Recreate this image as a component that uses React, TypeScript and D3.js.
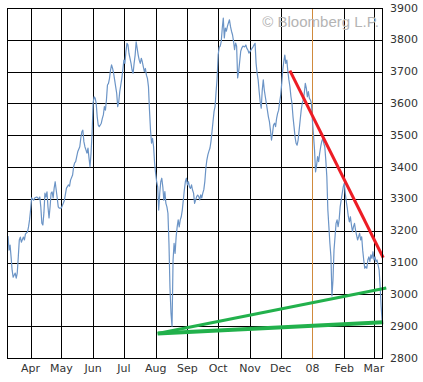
import React from "react";
import * as d3 from "d3";

// Daily closes, [day of month, value]
const mar07: [number, number][] = [[10,3183],[11,3139],[12,3155],[13,3117],[14,3076],[15,3054],[17,3067],[18,3051],[19,3067],[20,3117],[21,3171],[22,3180],[23,3164],[25,3180],[26,3171],[27,3190],[29,3196],[30,3212],[31,3234]];
const apr07: [number, number][] = [[1,3265],[2,3303],[4,3296],[5,3303],[7,3306],[9,3300],[10,3306],[11,3274],[12,3224],[13,3218],[14,3256],[15,3318],[16,3306],[17,3322],[18,3274],[19,3240],[20,3274],[21,3318],[22,3322],[23,3303],[24,3334],[25,3354],[26,3328],[27,3303],[28,3275],[29,3271]];
const may07: [number, number][] = [[1,3271],[3,3287],[4,3296],[6,3334],[8,3344],[9,3340],[10,3359],[12,3375],[13,3401],[14,3413],[15,3417],[16,3433],[17,3448],[19,3464],[20,3491],[21,3511],[22,3516],[23,3480],[24,3464],[25,3454],[26,3444],[27,3460],[28,3428],[29,3401],[30,3444],[31,3507]];
const jun07: [number, number][] = [[1,3601],[2,3621],[3,3617],[4,3601],[5,3558],[6,3532],[7,3527],[9,3538],[10,3553],[11,3564],[12,3590],[13,3579],[14,3611],[15,3658],[16,3663],[17,3679],[18,3705],[19,3721],[20,3710],[21,3695],[22,3674],[23,3653],[24,3632],[25,3590],[26,3605],[27,3637],[28,3658],[29,3679],[30,3705]];
const jul07: [number, number][] = [[1,3736],[2,3726],[3,3763],[4,3789],[5,3784],[6,3757],[7,3742],[8,3726],[9,3705],[10,3695],[11,3726],[12,3752],[13,3794],[14,3773],[15,3752],[16,3736],[17,3726],[18,3742],[19,3731],[20,3715],[21,3700],[22,3710],[23,3689],[24,3679],[25,3653],[26,3579],[27,3516],[28,3475],[29,3490],[30,3464],[31,3412]];
const aug07: [number, number][] = [[1,3380],[2,3354],[3,3338],[4,3265],[5,3318],[6,3354],[7,3365],[8,3338],[9,3296],[10,3323],[11,3286],[12,3275],[13,3255],[14,3160],[15,3020],[16,2940],[17,2900],[18,3108],[19,3160],[20,3129],[21,3181],[22,3212],[23,3234],[24,3212],[25,3234],[26,3244],[27,3265],[28,3296],[29,3328],[30,3354],[31,3365]];
const sep07: [number, number][] = [[1,3344],[2,3354],[3,3338],[4,3333],[5,3344],[6,3328],[7,3318],[8,3286],[9,3296],[10,3307],[11,3312],[12,3308],[13,3297],[14,3313],[15,3303],[16,3318],[17,3329],[18,3355],[19,3397],[20,3423],[21,3439],[22,3450],[23,3460],[24,3481],[25,3512],[26,3544],[27,3575],[28,3591],[29,3638],[30,3680]];
const oct07: [number, number][] = [[1,3753],[2,3776],[3,3780],[4,3795],[5,3837],[6,3868],[7,3806],[8,3837],[9,3827],[10,3842],[11,3853],[12,3863],[13,3842],[14,3827],[15,3816],[16,3795],[17,3769],[18,3790],[19,3780],[20,3680],[21,3701],[22,3732],[23,3764],[24,3774],[25,3780],[27,3778],[28,3784],[29,3773],[30,3768],[31,3758]];
const nov07: [number, number][] = [[1,3763],[2,3768],[3,3773],[4,3778],[5,3784],[6,3789],[7,3726],[8,3695],[9,3674],[10,3637],[11,3605],[12,3585],[13,3642],[14,3674],[15,3642],[16,3621],[17,3600],[18,3579],[19,3558],[20,3543],[21,3516],[22,3485],[23,3506],[24,3532],[25,3538],[26,3527],[27,3553],[28,3569],[29,3579],[30,3605]];
const dec07: [number, number][] = [[1,3626],[2,3663],[3,3705],[4,3731],[5,3752],[6,3726],[7,3736],[8,3700],[9,3674],[10,3653],[11,3621],[12,3600],[13,3558],[14,3527],[15,3495],[16,3475],[17,3469],[18,3485],[19,3516],[20,3548],[21,3579],[22,3600],[23,3611],[24,3632],[25,3663],[26,3648],[27,3621],[28,3637],[29,3616],[30,3611],[31,3600]];
const jan08: [number, number][] = [[1,3543],[2,3501],[3,3454],[4,3385],[5,3406],[6,3433],[7,3417],[8,3443],[9,3464],[10,3480],[11,3490],[12,3475],[13,3464],[14,3422],[15,3370],[16,3265],[17,3213],[18,3160],[19,3118],[20,2995],[21,3045],[22,3139],[23,3181],[24,3223],[25,3234],[26,3213],[27,3234],[28,3275],[29,3296],[30,3317],[31,3338]];
const feb08: [number, number][] = [[1,3349],[2,3317],[3,3291],[4,3270],[5,3244],[6,3228],[7,3244],[8,3218],[9,3197],[10,3213],[11,3223],[12,3202],[13,3186],[14,3171],[15,3181],[16,3192],[17,3171],[18,3181],[19,3139],[20,3108],[21,3082],[22,3087],[23,3082],[24,3108],[25,3118],[26,3103],[27,3124],[28,3113],[29,3134]];
const mar08: [number, number][] = [[1,3108],[2,3118],[3,3103],[4,3108],[5,3092],[6,3077],[7,3024],[8,2960],[9,2915]];

const seriesMonths: [string, [number, number][]][] = [
  ["2007-03", mar07], ["2007-04", apr07], ["2007-05", may07], ["2007-06", jun07],
  ["2007-07", jul07], ["2007-08", aug07], ["2007-09", sep07], ["2007-10", oct07],
  ["2007-11", nov07], ["2007-12", dec07], ["2008-01", jan08], ["2008-02", feb08],
  ["2008-03", mar08],
];

// Hand-drawn trend lines
const redTrend: [string, number][] = [["2007-12-10", 3703], ["2008-03-10", 3115]];
const greenUpper: [string, number][] = [["2007-08-03", 2877], ["2008-03-13", 3020]];
const greenLower: [string, number][] = [["2007-08-03", 2877], ["2008-03-10", 2912]];

const yTicks = [2800, 2900, 3000, 3100, 3200, 3300, 3400, 3500, 3600, 3700, 3800, 3900];
const monthTicks: [string, string][] = [
  ["2007-04-01", "Apr"], ["2007-05-01", "May"], ["2007-06-01", "Jun"], ["2007-07-01", "Jul"],
  ["2007-08-01", "Aug"], ["2007-09-01", "Sep"], ["2007-10-01", "Oct"], ["2007-11-01", "Nov"],
  ["2007-12-01", "Dec"], ["2008-01-01", "08"], ["2008-02-01", "Feb"], ["2008-03-01", "Mar"],
];
const yearMark = "2008-01-01";
const domainStart = "2007-03-09T00:00:00Z";
const domainEnd = "2008-03-09T12:00:00Z";

const parse = (s: string) => new Date(s.length === 10 ? s + "T00:00:00Z" : s);

export default function App() {
  const W = 423, H = 382;
  const left = 7, right = 382.7, top = 8, bottom = 358;
  const x = d3.scaleUtc().domain([parse(domainStart), parse(domainEnd)]).range([left, right]);
  const y = d3.scaleLinear().domain([2800, 3900]).range([bottom, top]);

  const data = seriesMonths.flatMap(([ym, pts]) =>
    pts.map(([day, v]) => ({ date: parse(`${ym}-${String(day).padStart(2, "0")}`), v }))
  );
  const line = d3.line<{ date: Date; v: number }>().x(d => x(d.date)).y(d => y(d.v));
  const tline = d3.line<[string, number]>().x(d => x(parse(d[0]))).y(d => y(d[1]));
  const snap = (v: number) => Math.round(v) + 0.5;
  const font = "'DejaVu Sans', Verdana, sans-serif";

  return (
    <svg width={W} height={H} style={{ position: "absolute", left: 0, top: 0, background: "#fff" }}>
      <rect x={0} y={0} width={W} height={H} fill="#fff" />
      {yTicks.map(t => (
        <line key={t} x1={left} x2={right} y1={snap(y(t))} y2={snap(y(t))} stroke="#000" strokeWidth={1} shapeRendering="crispEdges" />
      ))}
      {monthTicks.map(([d]) => d === yearMark ? null : (
        <line key={d} x1={snap(x(parse(d)))} x2={snap(x(parse(d)))} y1={top} y2={bottom} stroke="#000" strokeWidth={1} shapeRendering="crispEdges" />
      ))}
      <line x1={snap(x(parse(yearMark)))} x2={snap(x(parse(yearMark)))} y1={top} y2={bottom} stroke="#d08a3c" strokeWidth={1} shapeRendering="crispEdges" />
      <text x={379} y={27} textAnchor="end" fontFamily="'Liberation Sans', Arial, sans-serif" fontSize={15} fill="#b4b4b4">© Bloomberg L.P.</text>
      <path d={line(data) || ""} fill="none" stroke="#6b94c6" strokeWidth={1.2} strokeLinejoin="round" />
      <path d={tline(greenLower) || ""} fill="none" stroke="#22b14c" strokeWidth={4} />
      <path d={tline(greenUpper) || ""} fill="none" stroke="#22b14c" strokeWidth={3} />
      <path d={tline(redTrend) || ""} fill="none" stroke="#ed1c24" strokeWidth={3} />
      <rect x={left + 0.5} y={top + 0.5} width={Math.round(right - left) - 1} height={bottom - top} fill="none" stroke="#000" strokeWidth={1} shapeRendering="crispEdges" />
      {yTicks.map(t => (
        <text key={t} x={390} y={y(t) + 3.5} fontFamily={font} fontSize={11} fill="#333">{t}</text>
      ))}
      {monthTicks.map(([d, lab]) => (
        <text key={d} x={x(parse(d))} y={372} textAnchor="middle" fontFamily={font} fontSize={11} fill="#333">{lab}</text>
      ))}
    </svg>
  );
}
